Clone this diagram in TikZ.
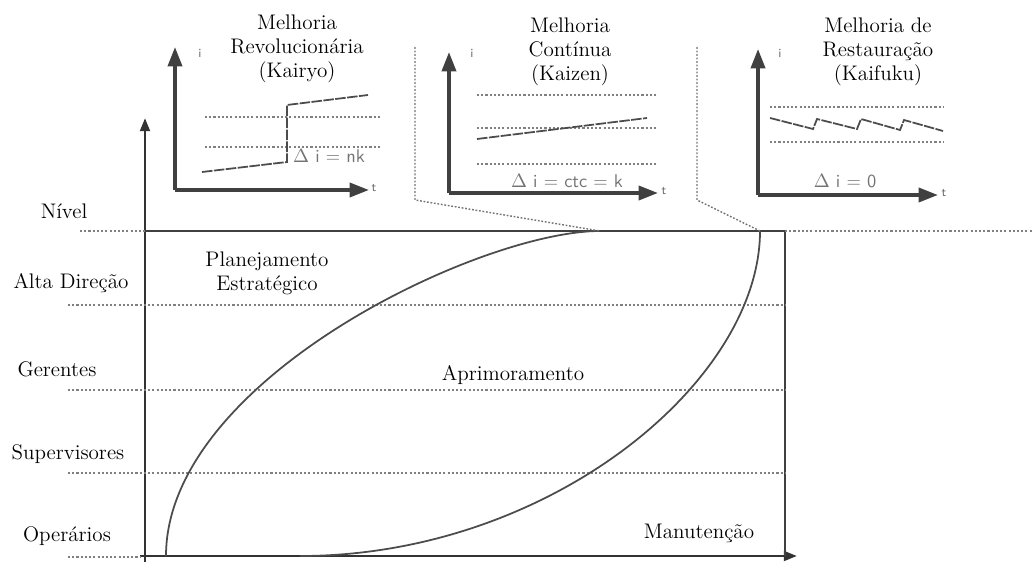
\documentclass[tikz,border=0pt]{standalone}
\usepackage{fontspec}
\usepackage{tikz}
\usetikzlibrary{arrows.meta}

\begin{document}
\begin{tikzpicture}[x=0.02cm, y=-0.02cm,
    lbl/.style={font=\fontsize{12}{13.5}\selectfont, align=center, inner sep=1pt, text=black},
    mainaxis/.style={line width=1.6pt, draw=black!80, -{Triangle[length=7.5pt, width=5.5pt]}},
    miniaxis/.style={line width=2pt, draw=black!75, -{Triangle[length=11pt, width=8pt]}},
    levelline/.style={dash pattern=on 1.2pt off 1.2pt, line width=0.8pt, draw=black!50},
    zoomline/.style={dash pattern=on 1pt off 1pt, line width=0.8pt, draw=black!55},
    curveline/.style={line width=1pt, draw=black!70},
    trend/.style={line width=1pt, draw=black!70, dash pattern=on 6pt off 0.8pt},
    formula/.style={font=\sffamily\fontsize{10.5}{12}\selectfont, text=black!55, inner sep=1pt},
    axlbl/.style={font=\sffamily\scriptsize, text=black!60, inner sep=1pt}
]
\useasboundingbox (0,0) rectangle (1033,567);

% eixos principais
\coordinate (orig) at (145,556);
\coordinate (ytop) at (145,118);
\coordinate (xend) at (797,556);
\draw[mainaxis] (145,562) -- (ytop);
\draw[mainaxis] (140,556) -- (xend);

% nivel e linhas de hierarquia
\coordinate (topL) at (145,231);
\coordinate (topR) at (785,231);
\coordinate (botR) at (785,556);
\draw[line width=1.1pt, draw=black!75] (topL) -- (topR);
\draw[line width=1pt, draw=black!75] (topR) -- (botR);
\draw[levelline] (80,231) -- (topL);
\draw[levelline] (topR) -- (1033,231);
\draw[levelline] (68,557) -- (140,557);
\foreach \y in {305,390,473}
  \draw[levelline] (68,\y) -- (785,\y);

\node[lbl] (nivel) at (64,211) {Nível};
\node[lbl] (alta) at (71,283) {Alta Direção};
\node[lbl] (ger) at (57,369) {Gerentes};
\node[lbl] (sup) at (68,454) {Supervisores};
\node[lbl] (oper) at (67,536) {Operários};

\node[lbl] (plan) at (267,273) {Planejamento\\Estratégico};
\node[lbl] (aprim) at (513,375) {Aprimoramento};
\node[lbl] (manut) at (699,533) {Manutenção};

% curvas
\coordinate (jA) at (600,231);
\coordinate (jB) at (760,231);
\draw[curveline] (166,556) .. controls (166,380) and (480,231) .. (jA);
\draw[curveline] (300,556) .. controls (550,556) and (760,381) .. (jB);

% Kairyo
\coordinate (o1) at (175,190);
\draw[miniaxis] (o1) -- (175,47);
\draw[miniaxis] (o1) -- (369,190);
\node[axlbl] (i1) at (200,53) {i};
\node[axlbl] (t1) at (374,188) {t};
\draw[levelline] (205,117) -- (382,117);
\draw[levelline] (205,147) -- (382,147);
\draw[trend] (202,172) -- (287,162) -- (287,105) -- (368,95);
\node[formula] (f1) at (329,156) {$\Delta$ i = nk};
\node[lbl] (kairyo) at (297,49) {Melhoria\\Revolucionária\\(Kairyo)};

% Kaizen
\coordinate (o2) at (449,193);
\draw[miniaxis] (o2) -- (449,52);
\draw[miniaxis] (o2) -- (658,193);
\node[axlbl] (i2) at (472,53) {i};
\node[axlbl] (t2) at (664,191) {t};
\foreach \y in {95,128,164}
  \draw[levelline] (477,\y) -- (657,\y);
\draw[trend] (477,139) -- (647,118);
\node[formula] (f2) at (567,181) {$\Delta$ i = ctc = k};
\node[lbl] (kaizen) at (570,52) {Melhoria\\Contínua\\(Kaizen)};
\draw[zoomline] (415,47) -- (415,200) -- (jA);
\draw[zoomline] (697,47) -- (697,200) -- (jB);

% Kaifuku
\coordinate (o3) at (758,195);
\draw[miniaxis] (o3) -- (758,49);
\draw[miniaxis] (o3) -- (938,195);
\node[axlbl] (i3) at (780,53) {i};
\node[axlbl] (t3) at (944,193) {t};
\draw[levelline] (770,107) -- (943,107);
\draw[levelline] (770,142) -- (943,142);
\draw[trend] (770,118) -- (813,129) -- (817,119) -- (857,129) -- (861,119)
  -- (900,130) -- (904,120) -- (943,131);
\node[formula] (f3) at (845,181) {$\Delta$ i = 0};
\node[lbl] (kaifuku) at (878,52) {Melhoria de\\Restauração\\(Kaifuku)};
\end{tikzpicture}
\end{document}
